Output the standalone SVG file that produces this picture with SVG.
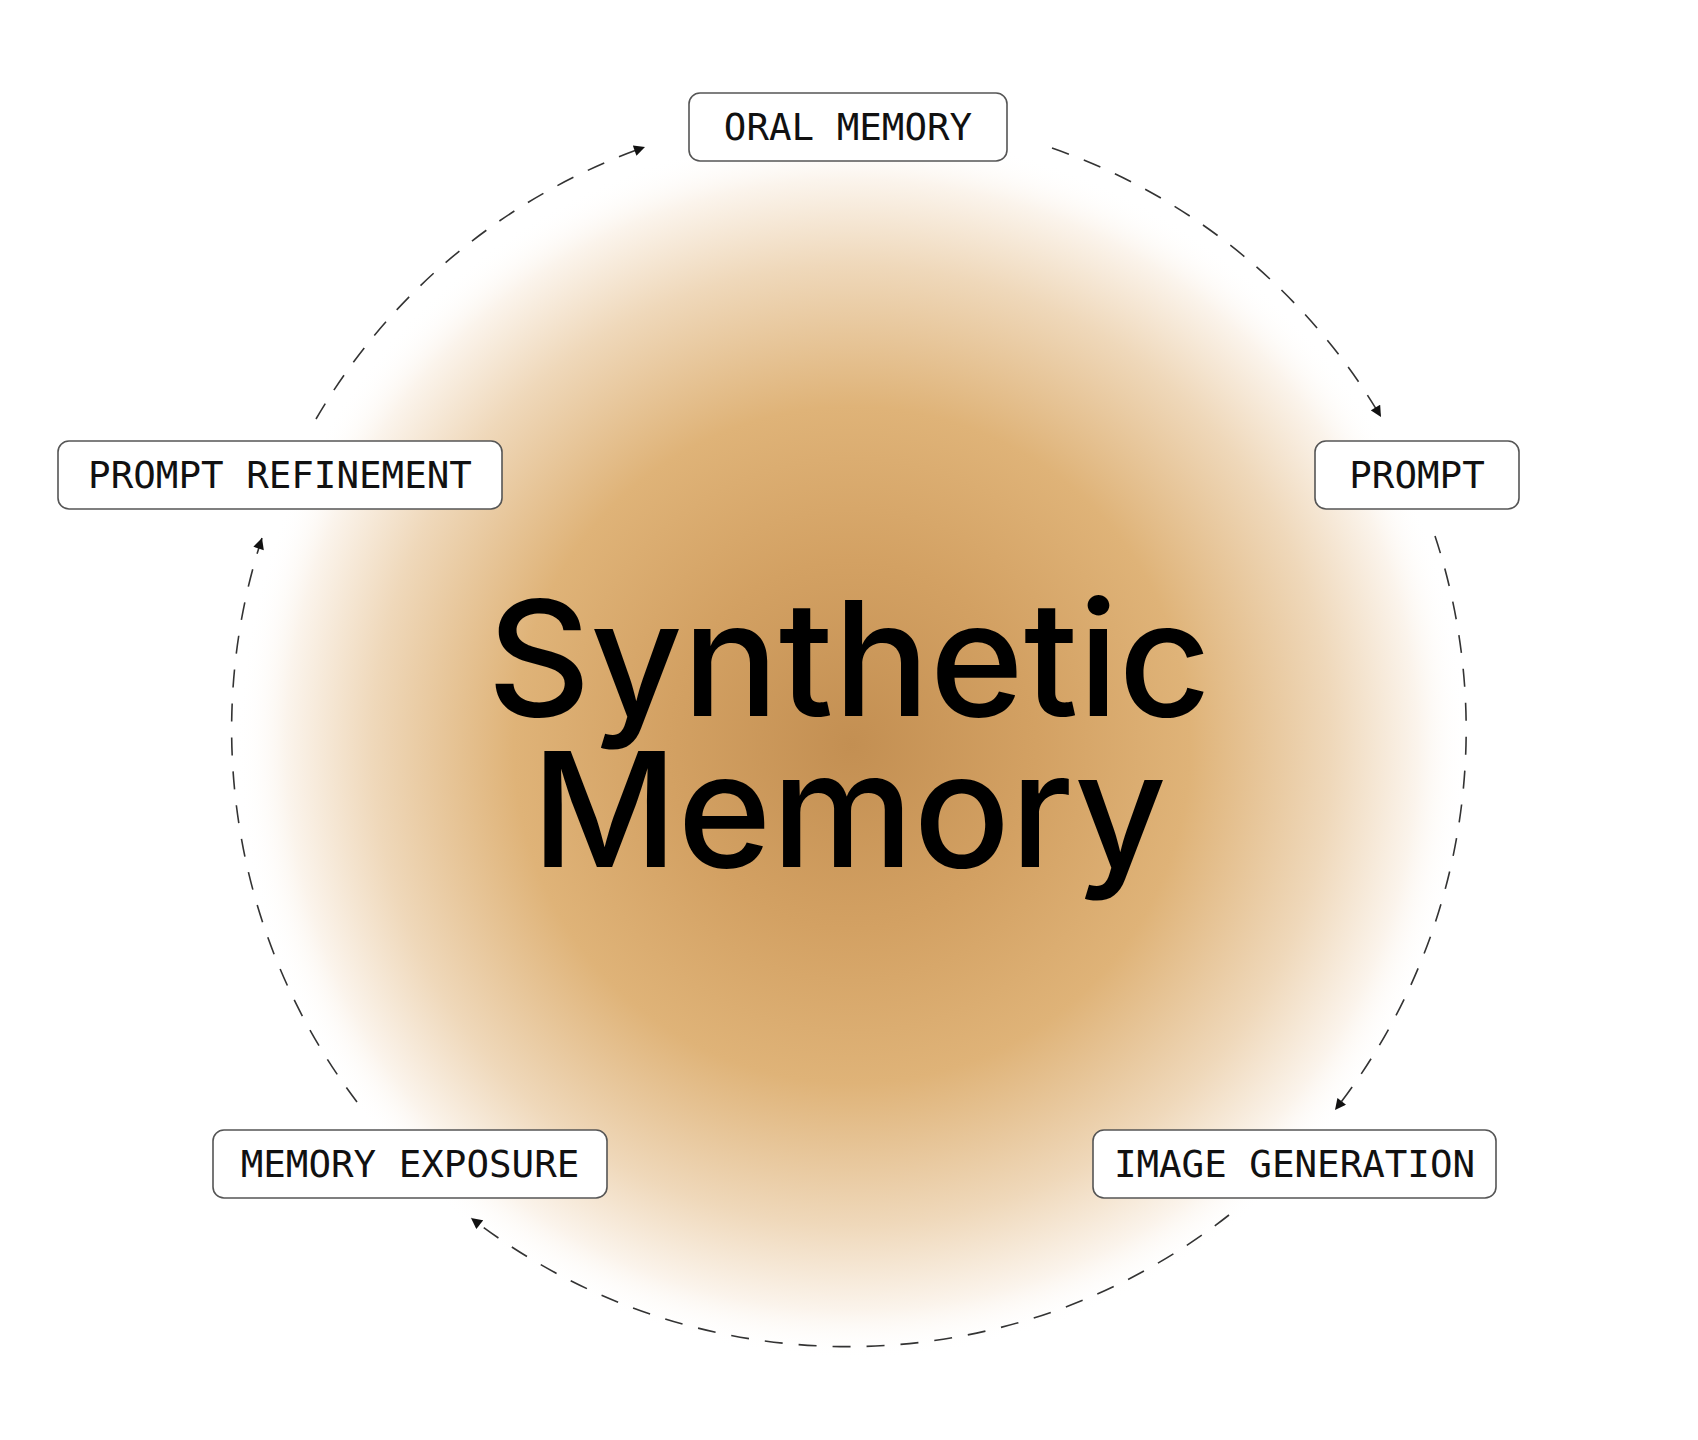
<svg xmlns="http://www.w3.org/2000/svg" width="1698" height="1440" viewBox="0 0 1698 1440">
<defs>
<radialGradient id="glow" cx="852" cy="745" r="615" gradientUnits="userSpaceOnUse">
<stop offset="0" stop-color="#c38f52"/>
<stop offset="0.3" stop-color="#d3a163"/>
<stop offset="0.55" stop-color="#dfb378"/>
<stop offset="0.78" stop-color="#efd8ba"/>
<stop offset="0.92" stop-color="#fbf4ec"/>
<stop offset="1" stop-color="#ffffff" stop-opacity="0"/>
</radialGradient>
<marker id="arrow" viewBox="0 0 10 10" refX="10" refY="5" markerWidth="12" markerHeight="11" markerUnits="userSpaceOnUse" orient="auto">
<path d="M0,0 L10,5 L0,10 z" fill="#111"/>
</marker>
<style>
.node rect{fill:#fff;stroke:#555;stroke-width:1.6}
.node text{font-family:"DejaVu Sans Mono","Liberation Mono",monospace;font-size:37.5px;fill:#111;text-anchor:middle}
.edge{fill:none;stroke:#333;stroke-width:1.6;stroke-dasharray:18 16;marker-end:url(#arrow)}
.title{font-family:Inter,"Liberation Sans",sans-serif;font-weight:500;font-size:160px;fill:#000;text-anchor:middle}
</style>
</defs>
<rect width="1698" height="1440" fill="#fff"/>
<circle cx="852" cy="745" r="615" fill="url(#glow)"/>
<g id="connectors">
<path class="edge" d="M1052 148 A617 617 0 0 1 1381 417"/>
<path class="edge" d="M1435 536 A617 617 0 0 1 1335 1110"/>
<path class="edge" d="M1229 1215 A617 617 0 0 1 471 1218"/>
<path class="edge" d="M357 1102 A617 617 0 0 1 262 538"/>
<path class="edge" d="M316 419 A617 617 0 0 1 645 147"/>
</g>
<g id="title">
<text class="title" x="849" y="716">Synthetic</text>
<text class="title" x="849" y="867">Memory</text>
</g>
<g id="node-oral-memory" class="node">
<rect x="689" y="93" width="318" height="68" rx="11"/>
<text x="848" y="140">ORAL MEMORY</text>
</g>
<g id="node-prompt" class="node">
<rect x="1315" y="441" width="204" height="68" rx="11"/>
<text x="1417" y="488">PROMPT</text>
</g>
<g id="node-image-generation" class="node">
<rect x="1093" y="1130" width="403" height="68" rx="11"/>
<text x="1294.5" y="1177">IMAGE GENERATION</text>
</g>
<g id="node-memory-exposure" class="node">
<rect x="213" y="1130" width="394" height="68" rx="11"/>
<text x="410" y="1177">MEMORY EXPOSURE</text>
</g>
<g id="node-prompt-refinement" class="node">
<rect x="58" y="441" width="444" height="68" rx="11"/>
<text x="280" y="488">PROMPT REFINEMENT</text>
</g>
</svg>
